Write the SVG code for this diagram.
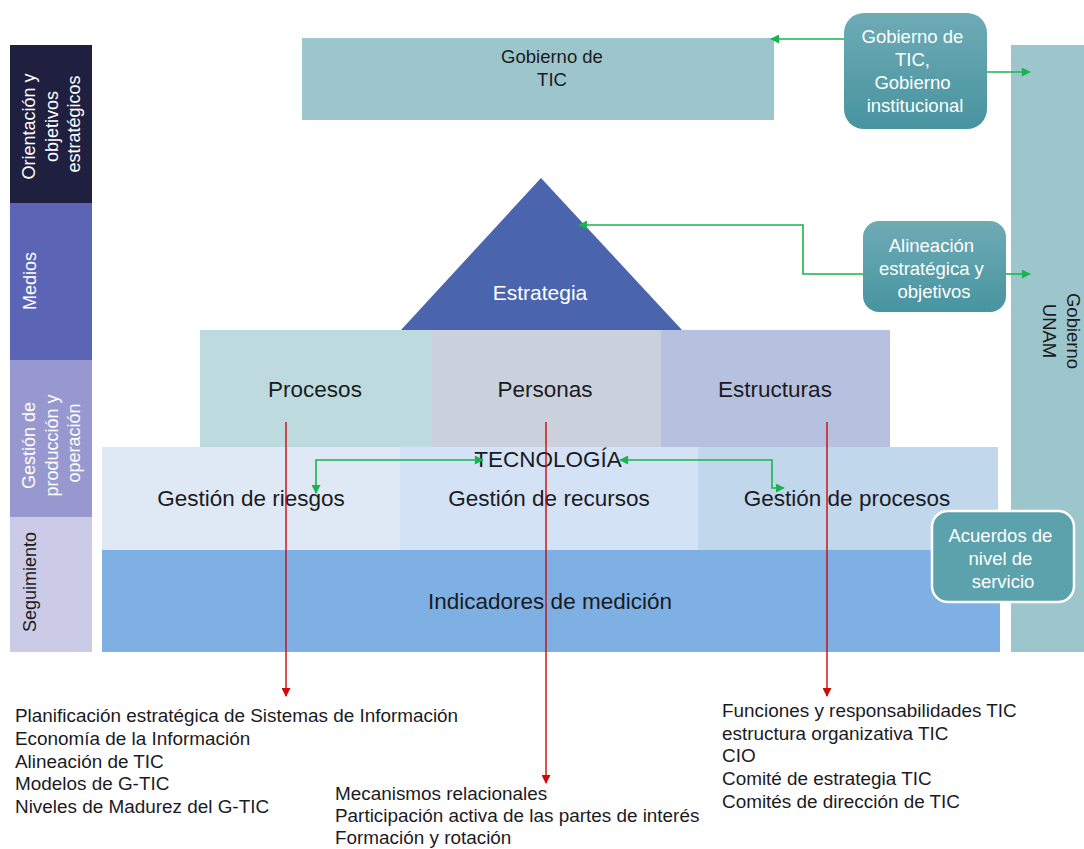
<svg xmlns="http://www.w3.org/2000/svg" width="1084" height="849" viewBox="0 0 1084 849">
  <defs>
    <linearGradient id="tealGrad" x1="0" y1="0" x2="0" y2="1">
      <stop offset="0" stop-color="#6eabb5"/>
      <stop offset="1" stop-color="#4794a0"/>
    </linearGradient>
    <marker id="arrowGreen" viewBox="0 0 10 10" refX="9" refY="5" markerWidth="10" markerHeight="9" markerUnits="userSpaceOnUse" orient="auto-start-reverse">
      <path d="M0,0 L10,5 L0,10 z" fill="#19b44f"/>
    </marker>
    <marker id="arrowRed" viewBox="0 0 10 10" refX="9" refY="5" markerWidth="10" markerHeight="9" markerUnits="userSpaceOnUse" orient="auto">
      <path d="M0,0 L10,5 L0,10 z" fill="#cc0a0a"/>
    </marker>
  </defs>
  <style>
    text { font-family: "Liberation Sans", Arial, sans-serif; }
    .dark { fill: #1b1b1f; }
    .white { fill: #ffffff; }
    .side { font-size: 18px; }
    .mid { font-size: 18.5px; text-anchor: middle; }
    .big { font-size: 22.5px; text-anchor: middle; fill: #1b1b1f; }
    .list { font-size: 18.9px; fill: #1b1b1f; }
    .green { fill: none; stroke: #19b44f; stroke-width: 1.6; }
    .red { fill: none; stroke: #cc0a0a; stroke-width: 1.4; }
  </style>

  <rect width="1084" height="849" fill="#ffffff"/>

  <!-- Left band of phase labels -->
  <g id="band-orientacion">
    <rect x="10" y="45" width="82" height="158" fill="#1f203f"/>
    <text class="white side" text-anchor="middle" transform="translate(0,124) rotate(-90)">
      <tspan x="0" y="35">Orientación y</tspan>
      <tspan x="0" y="57.5">objetivos</tspan>
      <tspan x="0" y="80">estratégicos</tspan>
    </text>
  </g>
  <g id="band-medios">
    <rect x="10" y="203" width="82" height="157" fill="#5b64b5"/>
    <text class="white side" text-anchor="middle" transform="translate(0,281) rotate(-90)">
      <tspan x="0" y="36">Medios</tspan>
    </text>
  </g>
  <g id="band-gestion">
    <rect x="10" y="360" width="82" height="157" fill="#9698cf"/>
    <text class="white side" text-anchor="middle" transform="translate(0,443) rotate(-90)">
      <tspan x="0" y="35">Gestión de</tspan>
      <tspan x="0" y="57.5">producción y</tspan>
      <tspan x="0" y="80">operación</tspan>
    </text>
  </g>
  <g id="band-seguimiento">
    <rect x="10" y="517" width="82" height="135" fill="#cbcbe7"/>
    <text class="dark side" text-anchor="middle" transform="translate(0,582) rotate(-90)">
      <tspan x="0" y="36">Seguimiento</tspan>
    </text>
  </g>

  <!-- Governance boxes -->
  <g id="gobierno-tic">
    <rect x="302" y="38" width="472" height="82" fill="#9dc6cc"/>
    <text class="dark mid"><tspan x="552" y="63">Gobierno de</tspan><tspan x="552" y="86">TIC</tspan></text>
  </g>
  <g id="gobierno-unam">
    <rect x="1011" y="45" width="80" height="607" fill="#9dc6cc"/>
    <text class="dark mid" transform="translate(0,331) rotate(90)"><tspan x="0" y="-1067">Gobierno</tspan><tspan x="0" y="-1043">UNAM</tspan></text>
  </g>

  <!-- Strategy pyramid -->
  <g id="estrategia">
    <polygon points="541,178 682,330 401,330" fill="#4a65ad"/>
    <text class="white" font-size="21px" text-anchor="middle" x="540" y="300">Estrategia</text>
  </g>

  <!-- Pillars -->
  <g id="procesos">
    <rect x="200" y="330" width="232" height="117" fill="#bddbde"/>
    <text class="big" x="315" y="397">Procesos</text>
  </g>
  <g id="personas">
    <rect x="432" y="330" width="229" height="117" fill="#cad1dc"/>
    <text class="big" x="545" y="397">Personas</text>
  </g>
  <g id="estructuras">
    <rect x="661" y="330" width="229" height="117" fill="#b5c1de"/>
    <text class="big" x="775" y="397">Estructuras</text>
  </g>

  <!-- Technology layer -->
  <g id="gestion-riesgos">
    <rect x="102" y="447" width="298" height="103" fill="#dfe9f5"/>
    <text class="big" x="251" y="506">Gestión de riesgos</text>
  </g>
  <g id="gestion-recursos">
    <rect x="400" y="447" width="298" height="103" fill="#d3e3f5"/>
    <text class="big" x="549" y="506">Gestión de recursos</text>
  </g>
  <g id="gestion-procesos">
    <rect x="698" y="447" width="300" height="103" fill="#c0d7ec"/>
    <text class="big" x="847" y="506">Gestión de procesos</text>
  </g>
  <g id="tecnologia">
    <text class="big" x="548" y="467">TECNOLOGÍA</text>
  </g>

  <!-- Measurement layer -->
  <g id="indicadores">
    <rect x="102" y="550" width="898" height="102" fill="#7eb0e4"/>
    <text class="big" x="550" y="609">Indicadores de medición</text>
  </g>

  <!-- Connectors -->
  <g id="connectors">
    <path class="green" d="M844,39 L771,39" marker-end="url(#arrowGreen)"/>
    <path class="green" d="M987,72 L1030,72" marker-end="url(#arrowGreen)"/>
    <path class="green" d="M863,274 L803,274 L803,225 L579,225" marker-end="url(#arrowGreen)"/>
    <path class="green" d="M1006,274 L1030,274" marker-end="url(#arrowGreen)"/>
    <path class="green" d="M316,493 L316,460 L483,460" marker-start="url(#arrowGreen)" marker-end="url(#arrowGreen)"/>
    <path class="green" d="M620,460 L772,460 L772,488 L784,488" marker-start="url(#arrowGreen)" marker-end="url(#arrowGreen)"/>
    <path class="red" d="M286,422 L286,696" marker-end="url(#arrowRed)"/>
    <path class="red" d="M546,422 L546,783" marker-end="url(#arrowRed)"/>
    <path class="red" d="M827,422 L827,696" marker-end="url(#arrowRed)"/>
  </g>

  <!-- Rounded callouts -->
  <g id="callout-gobierno">
    <rect x="844" y="13" width="143" height="116" rx="20" fill="url(#tealGrad)"/>
    <text class="white mid" font-size="18px">
      <tspan x="915" y="43">Gobierno de</tspan>
      <tspan x="915" y="66">TIC,</tspan>
      <tspan x="915" y="89">Gobierno</tspan>
      <tspan x="915" y="112">institucional</tspan>
    </text>
  </g>
  <g id="callout-alineacion">
    <rect x="863" y="221" width="143" height="91" rx="16" fill="url(#tealGrad)"/>
    <text class="white mid" font-size="18px">
      <tspan x="934" y="252">Alineación</tspan>
      <tspan x="934" y="275">estratégica y</tspan>
      <tspan x="934" y="298">objetivos</tspan>
    </text>
  </g>
  <g id="callout-acuerdos">
    <rect x="932" y="511" width="142" height="91" rx="16" fill="#5ba2ac" stroke="#ffffff" stroke-width="2.5"/>
    <text class="white mid" font-size="18px">
      <tspan x="1003" y="542">Acuerdos de</tspan>
      <tspan x="1003" y="565">nivel de</tspan>
      <tspan x="1003" y="588">servicio</tspan>
    </text>
  </g>

  <!-- Detail lists -->
  <g id="lista-procesos">
    <text class="list">
      <tspan x="15" y="722">Planificación estratégica de Sistemas de Información</tspan>
      <tspan x="15" y="745">Economía de la Información</tspan>
      <tspan x="15" y="768">Alineación de TIC</tspan>
      <tspan x="15" y="790">Modelos de G-TIC</tspan>
      <tspan x="15" y="813">Niveles de Madurez del G-TIC</tspan>
    </text>
  </g>
  <g id="lista-personas">
    <text class="list">
      <tspan x="335" y="800">Mecanismos relacionales</tspan>
      <tspan x="335" y="822">Participación activa de las partes de interés</tspan>
      <tspan x="335" y="844">Formación y rotación</tspan>
    </text>
  </g>
  <g id="lista-estructuras">
    <text class="list">
      <tspan x="722" y="717">Funciones y responsabilidades TIC</tspan>
      <tspan x="722" y="740">estructura organizativa TIC</tspan>
      <tspan x="722" y="762">CIO</tspan>
      <tspan x="722" y="785">Comité de estrategia TIC</tspan>
      <tspan x="722" y="808">Comités de dirección de TIC</tspan>
    </text>
  </g>
</svg>
